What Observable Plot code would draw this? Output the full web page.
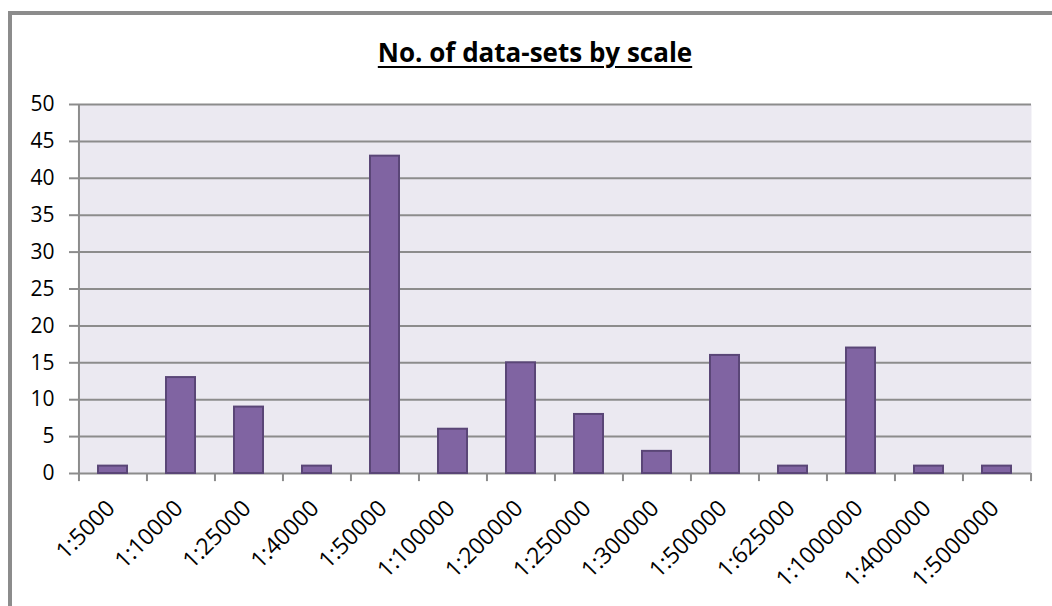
<!DOCTYPE html>
<html>
<head>
<meta charset="utf-8">
<script src="https://cdn.jsdelivr.net/npm/d3@7"></script>
<script src="https://cdn.jsdelivr.net/npm/@observablehq/plot@0.6"></script>
<style>
  html, body { margin: 0; padding: 0; background: #fff; width: 1052px; height: 606px; overflow: hidden; }
  #frame { position: absolute; left: 8px; top: 11px; width: 1100px; height: 700px;
           border-left: 4px solid #8c8c8c; border-top: 4px solid #8c8c8c; box-sizing: border-box; }
  #title { position: absolute; left: 12px; width: 1046px; top: 37px; text-align: center;
           font-family: "Open Sans", sans-serif; font-weight: bold; font-size: 26px; text-decoration: underline;
           text-decoration-thickness: 2px; text-underline-offset: 4px; color: #000; line-height: 30px; }
  #chart { position: absolute; left: 0; top: 80px; }
</style>
</head>
<body>
<div id="frame"></div>
<div id="title">No. of data-sets by scale</div>
<div id="chart"></div>
<script>
const categories = ["1:5000","1:10000","1:25000","1:40000","1:50000","1:100000","1:200000","1:250000","1:300000","1:500000","1:625000","1:1000000","1:4000000","1:5000000"];
const counts = [1, 13, 9, 1, 43, 6, 15, 8, 3, 16, 1, 17, 1, 1];
const yTicks = [0, 5, 10, 15, 20, 25, 30, 35, 40, 45, 50];

const data = categories.map((c, i) => ({scale: c, count: counts[i]}));

const width = 1052, height = 526;
const mL = 78, mR = 21, mT = 24, mB = 133;
const step = (width - mL - mR) / categories.length;
const gridColor = "#8c8c8c";

const chart = Plot.plot({
  width, height,
  marginLeft: mL, marginRight: mR, marginTop: mT, marginBottom: mB,
  style: {fontFamily: "'Open Sans', sans-serif", fontSize: "21px", color: "#000", background: "transparent", overflow: "visible"},
  x: {type: "band", domain: categories, paddingInner: 0.58, paddingOuter: 0.29, label: null},
  y: {domain: [0, 50], label: null},
  marks: [
    Plot.frame({fill: "#ebe9f1", stroke: null}),
    Plot.ruleY(yTicks, {stroke: gridColor, strokeWidth: 2}),
    Plot.ruleX(categories.slice(0, 1), {x: d => d, dx: -step / 2, stroke: gridColor, strokeWidth: 2}),
    Plot.ruleX(categories, {x: d => d, dx: -step / 2, y1: 0, y2: -1.1, stroke: gridColor, strokeWidth: 2}),
    Plot.ruleX(categories.slice(-1), {x: d => d, dx: step / 2, y1: 0, y2: -1.1, stroke: gridColor, strokeWidth: 2}),
    Plot.barY(data, {x: "scale", y: "count", fill: "#8064a2", stroke: "#5a4677", strokeWidth: 2}),
    Plot.axisY({ticks: yTicks, tickSize: 9, tickPadding: 15, stroke: gridColor, strokeWidth: 2, tickFormat: d => d, fill: "#000"}),
    Plot.axisX({tickSize: 0, tickRotate: -45, tickPadding: 31, fontSize: 23, dx: -2, fill: "#000"})
  ]
});
document.getElementById("chart").appendChild(chart);
</script>
</body>
</html>
